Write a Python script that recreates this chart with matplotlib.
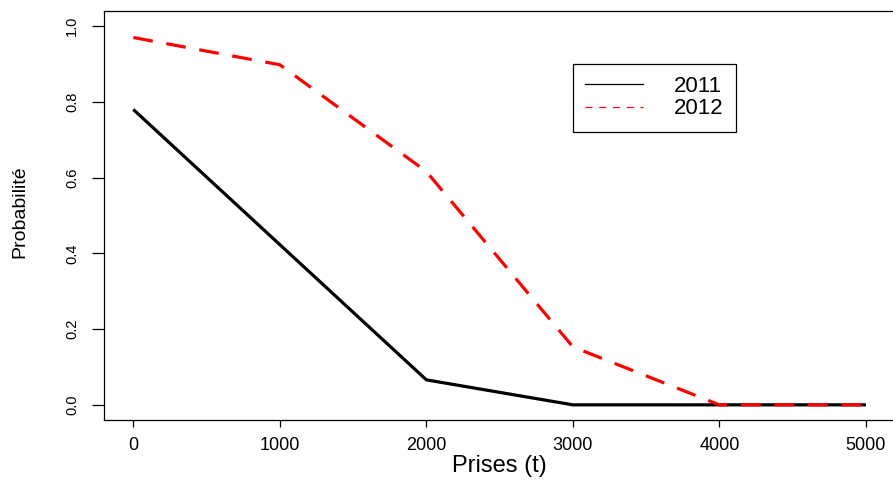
import numpy as np
import matplotlib
matplotlib.use("Agg")
import matplotlib.pyplot as plt
from matplotlib.lines import Line2D

# catch (t) vs probability
prises = [0, 1000, 2000, 3000, 4000, 5000]
proba_2011 = [0.78, 0.423, 0.066, 0.0, 0.0, 0.0]
proba_2012 = [0.97, 0.898, 0.616, 0.153, 0.0, 0.0]
annees = ['2011', '2012']
yticks = [0.0, 0.2, 0.4, 0.6, 0.8, 1.0]
ytick_labels = ['0.0', '0.2', '0.4', '0.6', '0.8', '1.0']
xticks = [0, 1000, 2000, 3000, 4000, 5000]

plt.rcParams['font.family'] = ['Liberation Sans', 'DejaVu Sans']

fig = plt.figure(figsize=(8.93, 4.8), dpi=100)
ax = fig.add_axes([104/893, 60/480, 791.3/893, 409/480])

ax.plot(prises, proba_2011, color='black', lw=2.3, solid_capstyle='butt')
ax.plot(prises, proba_2012, color='red', lw=2.3, dashes=(6.2, 4.3))

ax.set_xlim(-200, 5200)
ax.set_ylim(-0.04, 1.04)

for s in ax.spines.values():
    s.set_linewidth(0.9)
    s.set_color('black')
ax.spines['right'].set_visible(False)  # falls just past the image edge

ax.set_xticks(xticks)
ax.set_xticklabels([str(v) for v in xticks], fontsize=13)
ax.set_yticks(yticks)
ax.set_yticklabels(ytick_labels, fontsize=10.5, rotation=90, va='center')
ax.tick_params(axis='x', length=5, width=0.9, pad=7, color='black')
ax.tick_params(axis='y', length=9, width=0.9, pad=9, color='black')

ax.set_xlabel('Prises (t)', fontsize=17)
ax.xaxis.set_label_coords(0.5, -0.112)
ax.xaxis.label.set_va('center')
ax.set_ylabel('Probabilité', fontsize=14)
ax.yaxis.set_label_coords(-0.106, 0.51)
ax.yaxis.label.set_va('center')

handles = [Line2D([], [], color='black', lw=0.9),
           Line2D([], [], color='red', lw=0.9, dashes=(5.5, 5.5))]
leg = ax.legend(handles, annees, loc='upper left',
                bbox_to_anchor=(573/893, 1 - 64/480), bbox_transform=fig.transFigure,
                borderaxespad=0, fontsize=16, fancybox=False, framealpha=1,
                edgecolor='black', handlelength=2.6, handletextpad=1.4,
                borderpad=0.55, labelspacing=0.05)
leg.get_frame().set_linewidth(0.9)

fig.savefig('out.png', dpi=100)
